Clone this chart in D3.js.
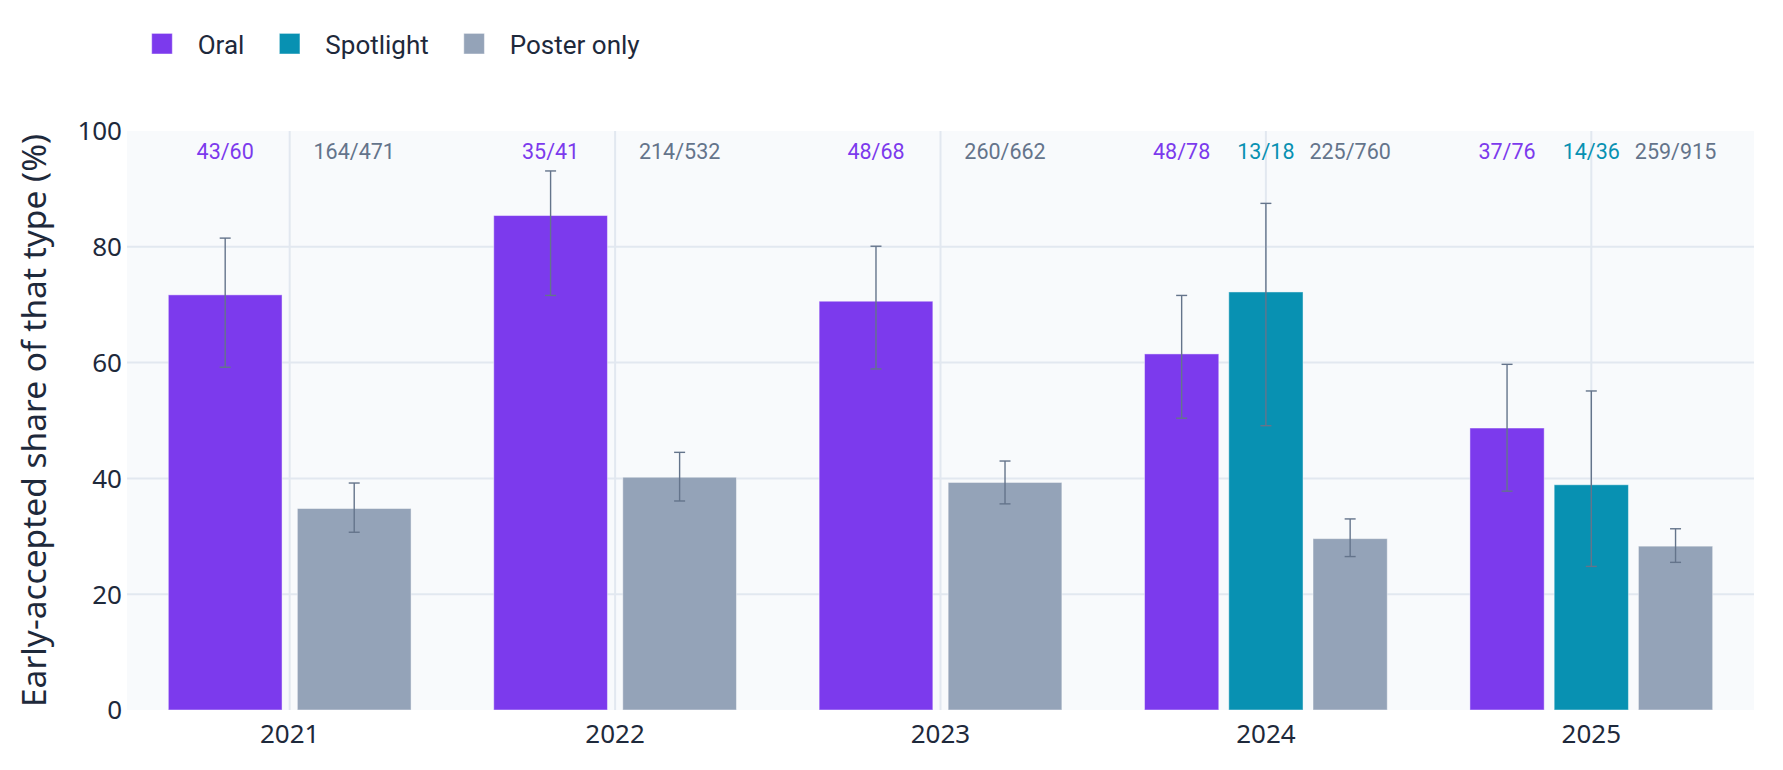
<!DOCTYPE html>
<html>
<head>
<meta charset="utf-8">
<script src="https://cdn.jsdelivr.net/npm/d3@7"></script>
<style>
  html, body { margin: 0; padding: 0; background: #ffffff; }
  svg { display: block; }
</style>
</head>
<body>
<svg id="chart" width="1783" height="770"></svg>
<script>
// ---- Data ----
const years = ["2021", "2022", "2023", "2024", "2025"];
const types = ["Oral", "Spotlight", "Poster only"];
const yTicks = [0, 20, 40, 60, 80, 100];
const yTitle = "Early-accepted share of that type (%)";

const oralPct   = [71.7, 85.4, 70.6, 61.5, 48.7];
const oralLo    = [59.2, 71.6, 58.9, 50.4, 37.8];
const oralHi    = [81.5, 93.1, 80.1, 71.6, 59.7];
const oralLabel = ["43/60", "35/41", "48/68", "48/78", "37/76"];

const spotPct   = [null, null, null, 72.2, 38.9];
const spotLo    = [null, null, null, 49.1, 24.8];
const spotHi    = [null, null, null, 87.5, 55.1];
const spotLabel = [null, null, null, "13/18", "14/36"];

const posterPct   = [34.8, 40.2, 39.3, 29.6, 28.3];
const posterLo    = [30.7, 36.1, 35.6, 26.5, 25.5];
const posterHi    = [39.2, 44.5, 43.0, 33.0, 31.3];
const posterLabel = ["164/471", "214/532", "260/662", "225/760", "259/915"];

// ---- Styles ----
const barColors  = { "Oral": "#7c3aed", "Spotlight": "#0891b2", "Poster only": "#94a3b8" };
const textColors = { "Oral": "#7c3aed", "Spotlight": "#0891b2", "Poster only": "#64748b" };
const seriesData = {
  "Oral": { pct: oralPct, lo: oralLo, hi: oralHi, label: oralLabel },
  "Spotlight": { pct: spotPct, lo: spotLo, hi: spotHi, label: spotLabel },
  "Poster only": { pct: posterPct, lo: posterLo, hi: posterHi, label: posterLabel }
};

const plot = { left: 127, right: 1754, top: 131, bottom: 710 };
const svg = d3.select("#chart");

const x = d3.scaleBand().domain(years).range([plot.left, plot.right]).padding(0);
const y = d3.scaleLinear().domain([0, 100]).range([plot.bottom, plot.top]);

// background
svg.append("rect")
  .attr("x", plot.left).attr("y", plot.top)
  .attr("width", plot.right - plot.left).attr("height", plot.bottom - plot.top)
  .attr("fill", "#f8fafc");

// gridlines
const grid = svg.append("g");
grid.selectAll("line.h").data(yTicks.filter(t => t > 0 && t < 100)).join("line")
  .attr("x1", plot.left).attr("x2", plot.right)
  .attr("y1", d => y(d)).attr("y2", d => y(d))
  .attr("stroke", "#e2e8f0").attr("stroke-width", 2);
grid.selectAll("line.v").data(years).join("line")
  .attr("x1", d => x(d) + x.bandwidth() / 2).attr("x2", d => x(d) + x.bandwidth() / 2)
  .attr("y1", plot.top).attr("y2", plot.bottom)
  .attr("stroke", "#e2e8f0").attr("stroke-width", 2);

// build records
const records = [];
years.forEach((yr, i) => {
  const present = types.filter(t => seriesData[t].pct[i] != null);
  const groupW = x.bandwidth() * 0.746;
  const c = x(yr) + x.bandwidth() / 2;
  const sub = d3.scaleBand().domain(present).range([c - groupW / 2, c + groupW / 2])
    .paddingInner(0.1186).paddingOuter(0);
  present.forEach(t => {
    const s = seriesData[t];
    records.push({
      year: yr, type: t, pct: s.pct[i], lo: s.lo[i], hi: s.hi[i], label: s.label[i],
      x0: sub(t), w: sub.bandwidth()
    });
  });
});

// bars
svg.append("g").selectAll("rect").data(records).join("rect")
  .attr("x", d => d.x0).attr("width", d => d.w)
  .attr("y", d => y(d.pct)).attr("height", d => y(0) - y(d.pct))
  .attr("fill", d => barColors[d.type])
  .attr("stroke", "rgba(255,255,255,0.45)").attr("stroke-width", 1);

// error bars
const eb = svg.append("g").attr("stroke", "#64748b").attr("stroke-width", 1.4).attr("fill", "none");
records.forEach(d => {
  const cx = d.x0 + d.w / 2;
  eb.append("line").attr("x1", cx).attr("x2", cx).attr("y1", y(d.lo)).attr("y2", y(d.hi));
  eb.append("line").attr("x1", cx - 5.5).attr("x2", cx + 5.5).attr("y1", y(d.hi)).attr("y2", y(d.hi));
  eb.append("line").attr("x1", cx - 5.5).attr("x2", cx + 5.5).attr("y1", y(d.lo)).attr("y2", y(d.lo));
});

// count annotations
svg.append("g").selectAll("text").data(records).join("text")
  .attr("x", d => d.x0 + d.w / 2).attr("y", 159)
  .attr("text-anchor", "middle")
  .attr("font-family", "Roboto, 'Noto Sans', sans-serif")
  .attr("font-size", 21.5)
  .attr("fill", d => textColors[d.type])
  .text(d => d.label);

// y axis tick labels
svg.append("g").selectAll("text").data(yTicks).join("text")
  .attr("x", 122).attr("y", d => y(d)).attr("dy", "0.36em")
  .attr("text-anchor", "end")
  .attr("font-family", "'Noto Sans', sans-serif").attr("font-size", 26)
  .attr("fill", "#1e293b")
  .text(d => d);

// x axis tick labels
svg.append("g").selectAll("text").data(years).join("text")
  .attr("x", d => x(d) + x.bandwidth() / 2).attr("y", 743)
  .attr("text-anchor", "middle")
  .attr("font-family", "'Noto Sans', sans-serif").attr("font-size", 26)
  .attr("fill", "#1e293b")
  .text(d => d);

// y title
svg.append("text")
  .attr("transform", `translate(46, ${(123 + 718) / 2}) rotate(-90)`)
  .attr("text-anchor", "middle")
  .attr("font-family", "'Noto Sans', sans-serif").attr("font-size", 33.5)
  .attr("fill", "#1e293b")
  .text(yTitle);

// legend
const legend = svg.append("g");
let lx = 151.7;
types.forEach(t => {
  legend.append("rect").attr("x", lx).attr("y", 33.4).attr("width", 20.6).attr("height", 20.6)
    .attr("fill", barColors[t]).attr("stroke", "rgba(255,255,255,0.45)").attr("stroke-width", 1);
  const tx = legend.append("text").attr("x", lx + 46).attr("y", 54)
    .attr("font-family", "Roboto, 'Noto Sans', sans-serif").attr("font-size", 26)
    .attr("fill", "#1e293b").text(t);
  lx = lx + 46 + tx.node().getComputedTextLength() + 35;
});
</script>
</body>
</html>
